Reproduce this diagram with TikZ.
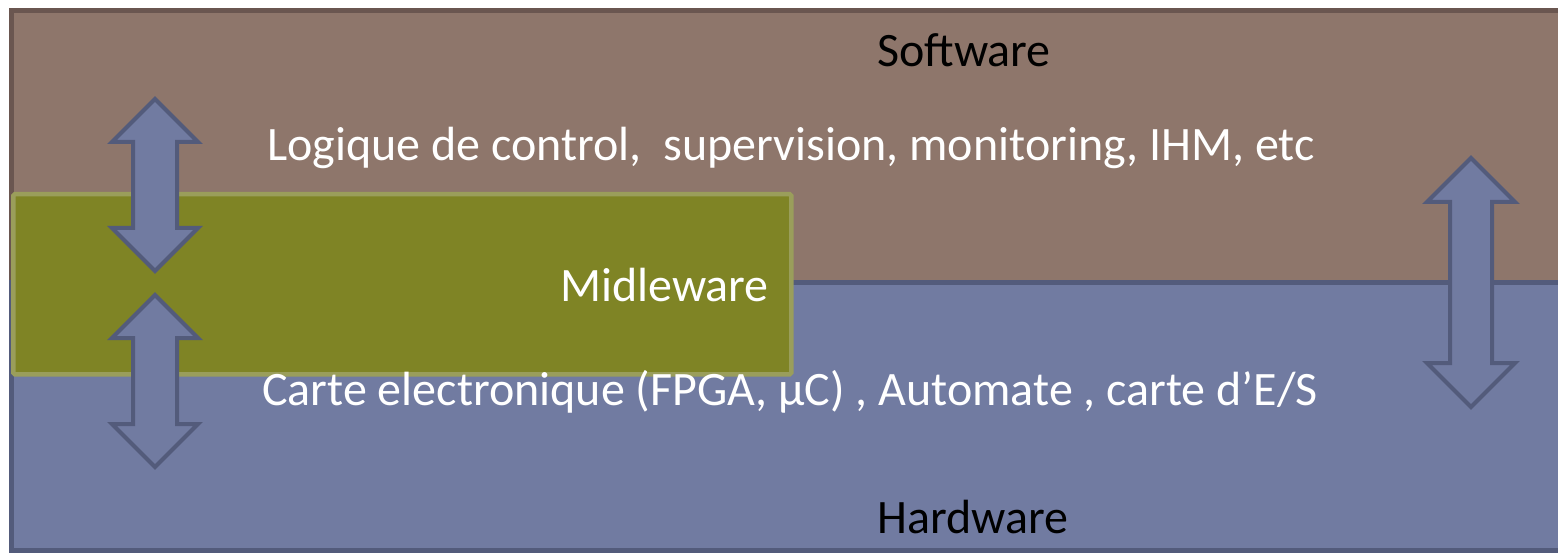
\documentclass[tikz,border=0pt]{standalone}
\usepackage{fontspec}
\setmainfont{Carlito}
\definecolor{swfill}{HTML}{8E766B}
\definecolor{swline}{HTML}{6A5650}
\definecolor{hwfill}{HTML}{717BA1}
\definecolor{hwline}{HTML}{535B7B}
\definecolor{mwfill}{HTML}{7F8425}
\definecolor{mwline}{HTML}{9A9E5B}
\tikzset{
  layer/.style={line width=5pt},
  dblarrow/.style={fill=hwfill, draw=hwline, line width=4pt, line join=miter},
  lbl/.style={font=\fontsize{48}{56}\selectfont, inner sep=0pt},
}
\begin{document}
\begin{tikzpicture}[x=1pt,y=-1pt]
\useasboundingbox (0,0) rectangle (1558,553);
\begin{scope}
\clip (0,0) rectangle (1558,553);
\fill[white] (0,0) rectangle (1558,553);
% software layer
\fill[swfill] (11.5,10.5) rectangle (1558,283);
\draw[layer, swline] (11.5,283) -- (11.5,10.5) -- (1600,10.5);
% hardware layer
\fill[hwfill] (11.5,283) rectangle (1558,550);
\draw[layer, hwline] (1600,283) -- (11.5,283) -- (11.5,550) -- (1600,550);
\end{scope}
% middleware
\node[draw=mwline, fill=mwfill, line width=4.5pt, rounded corners=1.5pt, minimum width=778pt, minimum height=180pt, inner sep=0pt, anchor=north west] (mw) at (11,192) {};
\node[lbl, text=white, anchor=east] (mwt) at (769,285) {Midleware};
% texts
\node[lbl, text=black] (sw) at (964,50) {Software};
\node[lbl, text=white] (logic) at (791,148) {Logique de control,\ \ supervision, monitoring, IHM, etc};
\node[lbl, text=white] (carte) at (790,392) {Carte electronique (FPGA, µC) , Automate , carte d’E/S};
\node[lbl, text=black] (hw) at (973,517) {Hardware};
% arrows
\draw[dblarrow] (155,99) -- (198,142) -- (177,142) -- (177,228) -- (198,228) -- (155,271) -- (112,228) -- (133,228) -- (133,142) -- (112,142) -- cycle;
\draw[dblarrow] (155,295) -- (198,338) -- (177,338) -- (177,424) -- (198,424) -- (155,467) -- (112,424) -- (133,424) -- (133,338) -- (112,338) -- cycle;
\draw[dblarrow] (1471,158) -- (1515,202) -- (1492,202) -- (1492,363) -- (1515,363) -- (1471,407) -- (1427,363) -- (1450,363) -- (1450,202) -- (1427,202) -- cycle;
\end{tikzpicture}
\end{document}
